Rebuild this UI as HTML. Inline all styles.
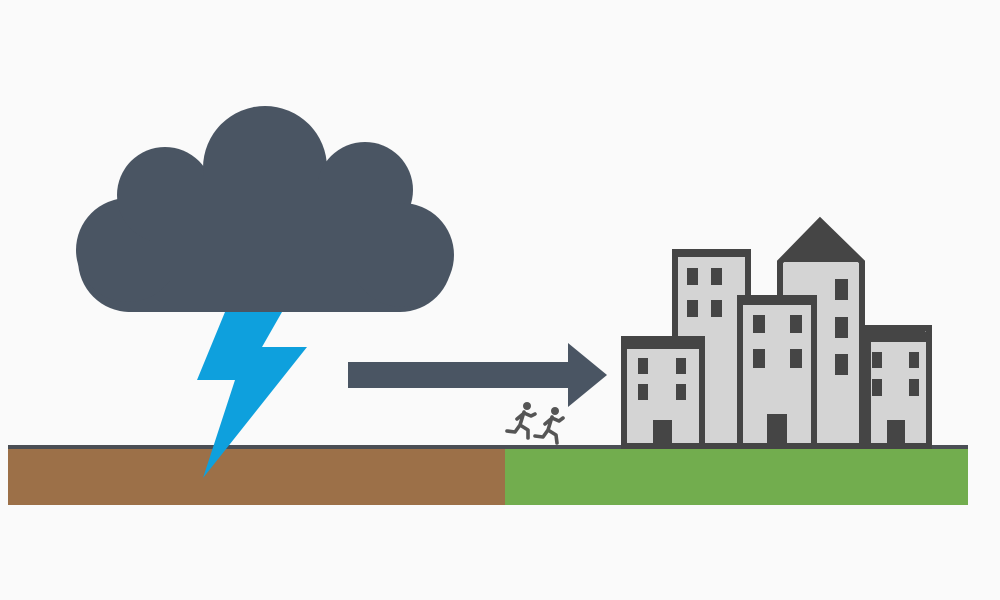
<!DOCTYPE html>
<html><head><style>html,body{margin:0;padding:0;background:#fafafa;}svg{display:block}</style></head>
<body>
<svg width="1000" height="600" viewBox="0 0 1000 600" xmlns="http://www.w3.org/2000/svg">
<rect width="1000" height="600" fill="#fafafa"/>
<!-- cloud -->
<g fill="#4a5563">
<rect x="78" y="205" width="374" height="107" rx="52"/>
<circle cx="128" cy="250" r="52"/>
<circle cx="165" cy="195" r="48"/>
<circle cx="265" cy="168" r="62"/>
<circle cx="365" cy="190" r="48"/>
<circle cx="402" cy="255" r="52"/>
<rect x="150" y="180" width="240" height="100"/>
</g>
<!-- ground -->
<rect x="8" y="449" width="497" height="56" fill="#9c7048"/>
<rect x="505" y="449" width="463" height="56" fill="#72ad4e"/>
<rect x="8" y="445" width="960" height="4" fill="#4a4e54"/>
<!-- lightning -->
<polygon points="225,312 282,312 262,347 307,347 203,478 235,380 197,380" fill="#0ea0dd"/>
<!-- arrow -->
<rect x="348" y="362" width="224" height="26" fill="#4a5563"/>
<polygon points="568,343 607,375 568,407" fill="#4a5563"/>
<!-- runners -->
<g stroke="#555" stroke-width="3.6" stroke-linecap="round" stroke-linejoin="round" fill="none">
<circle cx="527" cy="406" r="4" fill="#555" stroke="none"/>
<path d="M524 412 L520 425 L528 430 L528 438 M520 425 L515 432 L507 431 M523 414 L517 419 M524 413 L531 416 L535 414"/>
<circle cx="555" cy="411" r="4" fill="#555" stroke="none"/>
<path d="M552 417 L548 430 L556 435 L557 443 M548 430 L543 437 L535 436 M551 419 L545 424 M552 418 L559 421 L563 418"/>
</g>
<!-- buildings -->
<g fill="#d4d4d4" stroke="#454545" stroke-width="6">
<rect x="675" y="252" width="73" height="194"/>
<polygon points="780,262 820,221 862,262 862,446 780,446"/>
<rect x="740" y="298" width="74" height="148"/>
<rect x="624" y="339" width="78" height="107"/>
<rect x="868" y="328" width="61" height="118"/>
</g>
<g fill="#454545">
<polygon points="780,262 820,219 862,262"/>
<rect x="621" y="336" width="84" height="13"/>
<rect x="737" y="295" width="80" height="10"/>
<polygon points="865,325 918,325 932,337 932,342 865,342"/>
<rect x="672" y="249" width="79" height="8"/>
<rect x="638" y="358" width="10" height="16"/><rect x="676" y="358" width="10" height="16"/>
<rect x="638" y="384" width="10" height="16"/><rect x="676" y="384" width="10" height="16"/>
<rect x="653" y="420" width="19" height="26"/>
<rect x="687" y="268" width="11" height="17"/><rect x="711" y="268" width="11" height="17"/>
<rect x="687" y="300" width="11" height="17"/><rect x="711" y="300" width="11" height="17"/>
<rect x="753" y="315" width="12" height="18"/><rect x="790" y="315" width="12" height="18"/>
<rect x="753" y="349" width="12" height="19"/><rect x="790" y="349" width="12" height="19"/>
<rect x="767" y="414" width="20" height="32"/>
<rect x="835" y="279" width="13" height="21"/><rect x="835" y="317" width="13" height="21"/><rect x="835" y="354" width="13" height="21"/>
<rect x="872" y="352" width="10" height="16"/><rect x="909" y="352" width="10" height="16"/>
<rect x="872" y="379" width="10" height="17"/><rect x="909" y="379" width="10" height="17"/>
<rect x="887" y="420" width="18" height="26"/>
</g>
</svg>
</body></html>
